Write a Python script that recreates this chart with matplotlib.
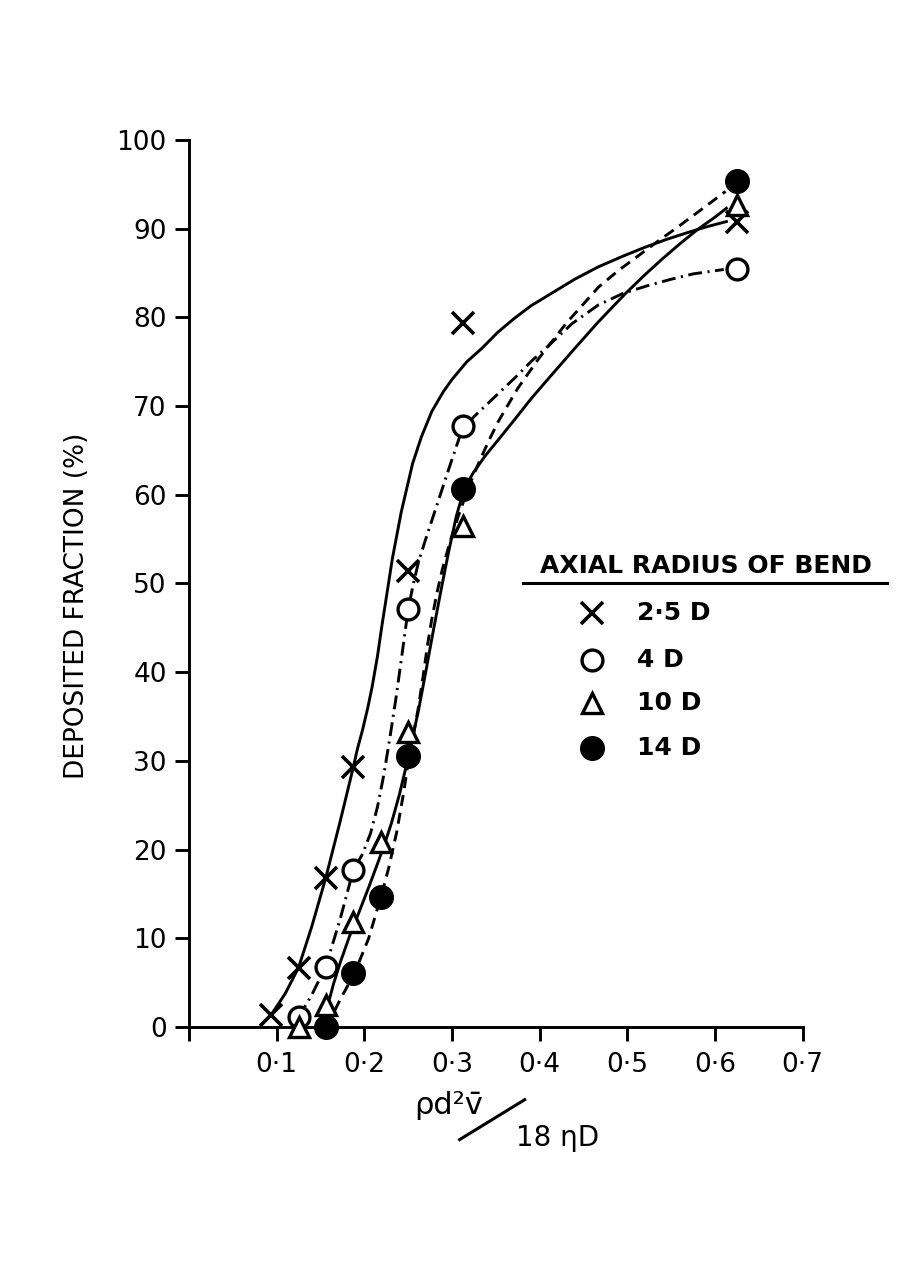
import matplotlib
matplotlib.use("Agg")
from matplotlib import pyplot as plt
from matplotlib.lines import Line2D

plt.rcParams['font.family'] = ['DejaVu Sans']
plt.rcParams['lines.scale_dashes'] = False

# measured points
x_25 = [0.094, 0.125, 0.156, 0.1875, 0.25, 0.3125, 0.625]
y_25 = [1.4, 6.7, 16.8, 29.3, 51.4, 79.4, 90.8]
x_4 = [0.125, 0.156, 0.1875, 0.25, 0.3125, 0.625]
y_4 = [1.1, 6.8, 17.7, 47.1, 67.8, 85.5]
x_10 = [0.125, 0.156, 0.1875, 0.219, 0.25, 0.3125, 0.625]
y_10 = [0.0, 2.5, 11.8, 20.8, 33.2, 56.5, 92.7]
x_14 = [0.156, 0.1875, 0.219, 0.25, 0.3125, 0.625]
y_14 = [0.0, 6.1, 14.7, 30.5, 60.7, 95.4]

# hand drawn curves
kx_25 = [0.094, 0.110, 0.125, 0.140, 0.156, 0.172, 0.1875, 0.192, 0.198, 0.204, 0.209, 0.215,
         0.220, 0.226, 0.232, 0.242, 0.255, 0.265, 0.277, 0.290, 0.300, 0.317, 0.334, 0.352,
         0.370, 0.390, 0.410, 0.440, 0.467, 0.495, 0.520, 0.545, 0.570, 0.590, 0.613]
ky_25 = [1.4, 3.8, 6.7, 11.3, 16.8, 23.0, 29.3, 31.3, 33.5, 36.0, 38.4, 41.8,
         45.2, 49.0, 52.8, 58.0, 63.5, 66.5, 69.4, 71.6, 73.0, 75.0, 76.5, 78.3,
         79.8, 81.3, 82.5, 84.3, 85.7, 86.9, 87.9, 88.8, 89.6, 90.2, 90.8]
kx_4 = [0.125, 0.140, 0.156, 0.172, 0.1875, 0.198, 0.207, 0.215, 0.222, 0.229, 0.236, 0.243,
        0.250, 0.256, 0.262, 0.270, 0.280, 0.290, 0.300, 0.311, 0.325, 0.342, 0.357, 0.373,
        0.390, 0.410, 0.437, 0.467, 0.495, 0.524, 0.550, 0.575, 0.610]
ky_4 = [1.1, 3.6, 6.8, 12.0, 17.7, 19.5, 21.8, 24.8, 28.3, 32.5, 37.0, 42.0,
        47.1, 50.0, 52.5, 55.0, 58.0, 61.0, 64.0, 67.2, 68.8, 70.4, 71.8, 73.3,
        75.0, 76.8, 79.3, 81.4, 82.7, 83.6, 84.3, 84.9, 85.4]
kx_10 = [0.157, 0.172, 0.189, 0.205, 0.219, 0.228, 0.237, 0.245, 0.251, 0.257, 0.262, 0.267,
         0.272, 0.277, 0.283, 0.289, 0.298, 0.308, 0.319, 0.331, 0.342, 0.353, 0.375, 0.400,
         0.430, 0.467, 0.490, 0.516, 0.535, 0.555, 0.585, 0.612]
ky_10 = [0.0, 3.0, 6.1, 10.0, 14.7, 18.0, 22.0, 26.5, 30.5, 33.5, 36.2, 39.5,
         43.0, 46.0, 49.0, 51.6, 54.8, 57.8, 60.9, 63.7, 66.1, 68.3, 72.0, 75.5,
         79.3, 83.4, 85.3, 87.2, 88.6, 90.0, 92.2, 94.2]
kx_14 = [0.158, 0.165, 0.173, 0.183, 0.195, 0.206, 0.215, 0.222, 0.231, 0.240, 0.248, 0.255,
         0.262, 0.270, 0.278, 0.287, 0.296, 0.305, 0.314, 0.325, 0.338, 0.352, 0.370, 0.390,
         0.410, 0.440, 0.467, 0.498, 0.520, 0.540, 0.560, 0.580, 0.600, 0.613]
ky_14 = [2.3, 4.9, 7.4, 10.2, 13.2, 16.0, 18.4, 20.3, 23.0, 26.2, 29.5, 32.6,
         35.8, 40.0, 44.3, 49.0, 53.5, 57.6, 60.7, 62.6, 64.4, 66.1, 68.3, 70.8,
         73.1, 76.5, 79.5, 82.7, 84.8, 86.6, 88.3, 89.9, 91.3, 92.3]

etiquetas = ['2·5 D', '4 D', '10 D', '14 D']
xticks = [0.0, 0.1, 0.2, 0.3, 0.4, 0.5, 0.6, 0.7]
xlabels = ['', '0·1', '0·2', '0·3', '0·4', '0·5', '0·6', '0·7']
yticks = [0, 10, 20, 30, 40, 50, 60, 70, 80, 90, 100]

fig = plt.figure(figsize=(9.16, 12.61), dpi=100)
ax = fig.add_axes([0.2063, 0.1856, 0.670, 0.7034])

lw = 2.1
ax.plot(kx_25, ky_25, color='black', lw=lw, zorder=2)
ax.plot(kx_4, ky_4, color='black', lw=lw, dashes=[10, 4, 1.5, 4], zorder=2)
ax.plot(kx_10, ky_10, color='black', lw=lw, dashes=[8, 5], zorder=2)
ax.plot(kx_14, ky_14, color='black', lw=lw, zorder=2)

estilos = [
    dict(marker='x', ms=16, mew=2.6, color='black'),
    dict(marker='o', ms=15, mew=2.4, mfc='white', mec='black'),
    dict(marker='^', ms=15, mew=2.4, mfc='white', mec='black'),
    dict(marker='o', ms=17, mew=1, mfc='black', mec='black'),
]
for xs, ys, st in zip([x_25, x_4, x_10, x_14], [y_25, y_4, y_10, y_14], estilos):
    ax.plot(xs, ys, linestyle='none', zorder=3, clip_on=False, **st)

ax.set_xlim(0, 0.7)
ax.set_ylim(0, 100)
ax.spines['top'].set_visible(False)
ax.spines['right'].set_visible(False)
ax.spines['left'].set_linewidth(2.1)
ax.spines['bottom'].set_linewidth(2.1)
ax.set_xticks(xticks)
ax.set_xticklabels(xlabels)
ax.set_yticks(yticks)
ax.tick_params(direction='out', length=10, width=2.1, labelsize=19, pad=6)
ax.tick_params(axis='x', pad=8)

ax.set_ylabel('DEPOSITED FRACTION (%)', fontsize=19)
ax.yaxis.set_label_coords(-0.161, 0.475)

# x label as a slanted fraction
ax.text(0.4235, -0.088, 'ρd²v\u0304', transform=ax.transAxes,
        fontsize=22, ha='center', va='center')
ax.add_line(Line2D([0.547, 0.441], [-0.082, -0.127], transform=ax.transAxes,
                   color='black', lw=2.2, clip_on=False))
ax.text(0.601, -0.125, '18 ηD', transform=ax.transAxes,
        fontsize=20, ha='center', va='center')

# legend drawn by hand
ax.text(0.842, 0.520, 'AXIAL RADIUS OF BEND', transform=ax.transAxes,
        fontsize=18, fontweight='bold', ha='center', va='center')
ax.add_line(Line2D([0.544, 1.137], [0.5006, 0.5006], transform=ax.transAxes,
                   color='black', lw=2.2, clip_on=False))
filas = [0.4667, 0.4138, 0.3653, 0.3145]
for fy, st, et in zip(filas, estilos, etiquetas):
    ax.plot([0.656], [fy], transform=ax.transAxes, linestyle='none',
            clip_on=False, **st)
    ax.text(0.730, fy, et, transform=ax.transAxes, fontsize=18,
            fontweight='bold', ha='left', va='center')

fig.savefig('out.png', dpi=100)
